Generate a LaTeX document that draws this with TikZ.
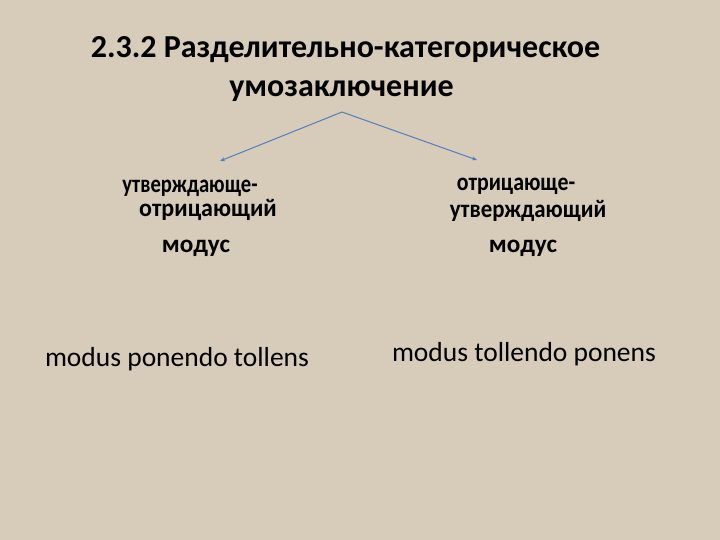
\documentclass[tikz,border=0pt]{standalone}
\usepackage{fontspec}
\setmainfont{Carlito}
\usetikzlibrary{arrows.meta}
\definecolor{bg}{HTML}{D6CCB9}
\definecolor{arr}{HTML}{4F7FC0}
\begin{document}
\begin{tikzpicture}[x=1pt,y=-1pt,
  title/.style={font=\bfseries\fontsize{32}{36}\selectfont, inner sep=0pt, anchor=base},
  ru/.style={font=\bfseries\fontsize{24}{28}\selectfont, inner sep=0pt, anchor=base},
  lat/.style={font=\fontsize{27.5}{32}\selectfont, inner sep=0pt, anchor=base},
  conn/.style={draw=arr, line width=1pt, -{Stealth[length=5pt,width=4pt]}}]
\fill[bg] (0,0) rectangle (720,540);
\useasboundingbox (0,0) rectangle (720,540);
\node[title] (t1) at (345.5,58) {2.3.2 Разделительно-категорическое};
\node[title] (t2) at (341.5,97) {умозаключение};
\coordinate (apex) at (342,112);
\node[ru] (l1) at (190,193) {\scalebox{0.86}[1.05]{утверждающе-}};
\node[ru] (l2) at (208,217) {\scalebox{1}[1.05]{отрицающий}};
\node[ru] (l3) at (196,252) {\scalebox{1.05}[1.05]{модус}};
\node[ru] (r1) at (516,191) {\scalebox{0.91}[1.05]{отрицающе-}};
\node[ru] (r2) at (528,218) {\scalebox{0.95}[1.05]{утверждающий}};
\node[ru] (r3) at (523,252) {\scalebox{1.05}[1.05]{модус}};
\coordinate (la) at (220,161);
\coordinate (ra) at (477,160);
\draw[conn] (apex) -- (la);
\draw[conn] (apex) -- (ra);
\node[lat] (b1) at (177,366) {modus ponendo tollens};
\node[lat] (b2) at (524,361) {modus tollendo ponens};
\end{tikzpicture}
\end{document}
